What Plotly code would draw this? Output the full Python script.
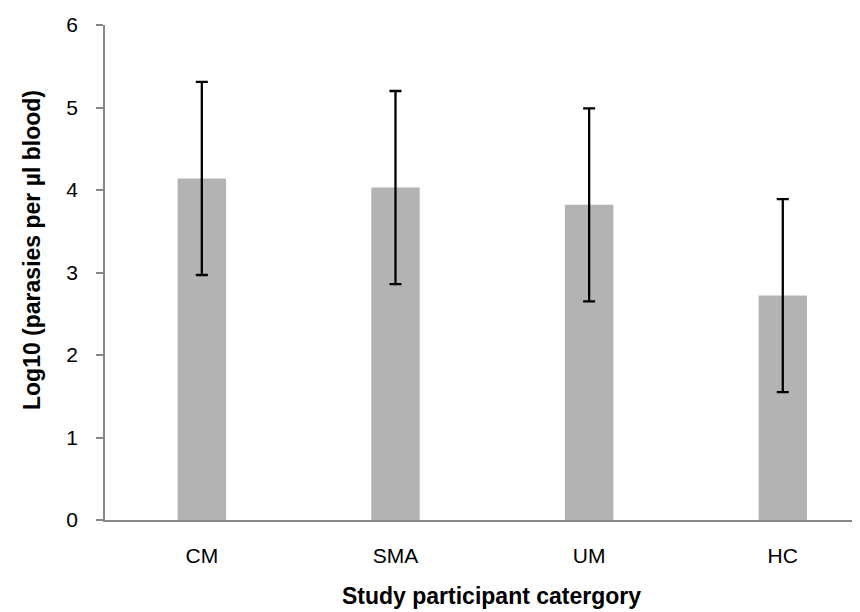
import plotly.graph_objects as go

categories = ["CM", "SMA", "UM", "HC"]
mean_log10 = [4.14, 4.03, 3.82, 2.72]
error_sd = [1.17, 1.17, 1.17, 1.17]
y_ticks = [0, 1, 2, 3, 4, 5, 6]

W, H = 860, 612
L, R, T, B = 97, 0, 17, 100
pw, ph = W - L - R, H - T - B

def px_x(p):
    return (p - L) / pw

def px_y(p):
    return (H - B - p) / ph

fig = go.Figure()
fig.add_trace(go.Bar(
    x=categories, y=mean_log10,
    width=0.25,
    marker=dict(color="#b3b3b3", line=dict(width=0)),
    error_y=dict(type="data", array=error_sd, visible=True,
                 color="black", thickness=2.3, width=6),
))

axis_col = "#868686"
fig.update_layout(
    width=W, height=H,
    margin=dict(l=L, r=R, t=T, b=B, pad=0),
    paper_bgcolor="white", plot_bgcolor="white",
    showlegend=False,
    font=dict(family="Liberation Sans, Arial, sans-serif", size=21, color="black"),
    xaxis=dict(
        range=[-0.5, 3.44],
        showline=True, linecolor=axis_col, linewidth=1.5,
        ticks="", showgrid=False, zeroline=False,
        tickfont=dict(size=21), ticklabelstandoff=16,
    ),
    yaxis=dict(
        range=[0, 6], tickvals=y_ticks,
        showline=True, linecolor=axis_col, linewidth=1.5,
        ticks="outside", ticklen=7, tickcolor=axis_col, tickwidth=1.5,
        showgrid=False, zeroline=False,
        tickfont=dict(size=21), ticklabelstandoff=14,
    ),
    annotations=[
        dict(text="<b>Log10 (parasies per µl blood)</b>", textangle=-90,
             xref="paper", yref="paper", x=px_x(24), y=px_y(242),
             xanchor="center", yanchor="middle", showarrow=False,
             font=dict(size=23)),
        dict(text="<b>Study participant catergory</b>",
             xref="paper", yref="paper", x=px_x(483), y=px_y(588),
             xanchor="center", yanchor="middle", showarrow=False,
             font=dict(size=23)),
    ],
)

fig.write_html("out.html")
